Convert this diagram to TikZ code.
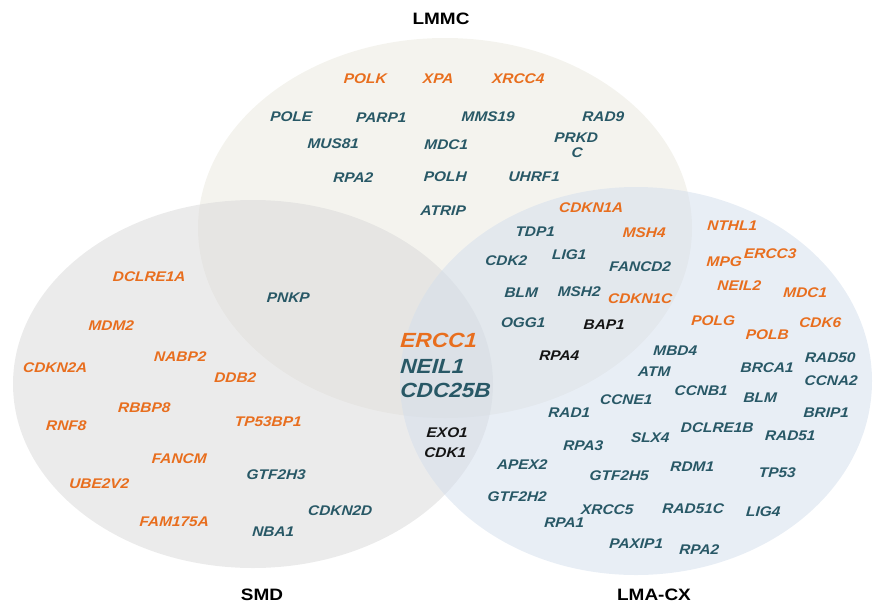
\documentclass[tikz,border=0pt]{standalone}
\usepackage{fontspec}
\newfontfamily\genefont{Liberation Sans}[FakeStretch=1.1, BoldItalicFeatures={FakeSlant=0.06}]
\newfontfamily\titlefont{Liberation Sans}[FakeStretch=1.15]
\definecolor{geneorange}{RGB}{232,110,30}
\definecolor{geneteal}{RGB}{40,88,102}
\definecolor{geneblack}{RGB}{20,20,20}
\definecolor{lmmcfill}{RGB}{234,232,222}
\definecolor{smdfill}{RGB}{216,216,216}
\definecolor{lmafill}{RGB}{210,221,236}
\tikzset{
  gene/.style={inner sep=0pt, font=\genefont\fontsize{14}{15}\selectfont\bfseries\itshape},
  up/.style={gene, text=geneorange},
  down/.style={gene, text=geneteal},
  both/.style={gene, text=geneblack},
  biggene/.style={inner sep=0pt, anchor=west, font=\genefont\fontsize{20.5}{22}\selectfont\bfseries\itshape},
  settitle/.style={inner sep=0pt, font=\titlefont\fontsize{16.5}{18}\selectfont\bfseries, text=black},
  setshape/.style={draw=none, fill opacity=0.5}
}
\begin{document}
\begin{tikzpicture}[x=1pt,y=-1pt]
\useasboundingbox (0,0) rectangle (874,605);
% the three sets
\fill[setshape, lmmcfill] (445,228) ellipse [x radius=247, y radius=190];
\fill[setshape, smdfill] (253,384) ellipse [x radius=240, y radius=184];
\fill[setshape, lmafill] (636,381) ellipse [x radius=236, y radius=194];
% set titles
\node[settitle] (tLMMC) at (441,19) {LMMC};
\node[settitle] (tSMD) at (262,595) {SMD};
\node[settitle] (tLMA) at (654,595) {LMA-CX};
% LMMC only
\node[up] (POLK) at (365,79) {POLK};
\node[up] (XPA) at (438,79) {XPA};
\node[up] (XRCC4) at (518,79) {XRCC4};
\node[down] (POLE) at (291,117) {POLE};
\node[down] (PARP1) at (381,118) {PARP1};
\node[down] (MMS19) at (488,117) {MMS19};
\node[down] (RAD9) at (603,117) {RAD9};
\node[down] (MUS81) at (333,144) {MUS81};
\node[down] (MDC1a) at (446,145) {MDC1};
\node[down] (PRKD) at (576,138) {PRKD};
\node[down] (PRKDc) at (577,153) {C};
\node[down] (RPA2a) at (353,178) {RPA2};
\node[down] (POLH) at (445,177) {POLH};
\node[down] (UHRF1) at (534,177) {UHRF1};
\node[down] (ATRIP) at (443,211) {ATRIP};
% LMMC and LMA-CX
\node[up] (CDKN1A) at (591,208) {CDKN1A};
\node[down] (TDP1) at (535,232) {TDP1};
\node[up] (MSH4) at (644,233) {MSH4};
\node[down] (LIG1) at (569,255) {LIG1};
\node[down] (CDK2) at (506,261) {CDK2};
\node[down] (FANCD2) at (640,267) {FANCD2};
\node[down] (BLMa) at (521,293) {BLM};
\node[down] (MSH2) at (579,292) {MSH2};
\node[up] (CDKN1C) at (640,299) {CDKN1C};
\node[down] (OGG1) at (523,323) {OGG1};
\node[both] (BAP1) at (604,325) {BAP1};
\node[both] (RPA4) at (559,356) {RPA4};
% LMA-CX only
\node[up] (NTHL1) at (732,226) {NTHL1};
\node[up] (MPG) at (724,262) {MPG};
\node[up] (ERCC3) at (770,254) {ERCC3};
\node[up] (NEIL2) at (739,286) {NEIL2};
\node[up] (MDC1b) at (805,293) {MDC1};
\node[up] (POLG) at (713,321) {POLG};
\node[up] (POLB) at (767,335) {POLB};
\node[up] (CDK6) at (820,323) {CDK6};
\node[down] (MBD4) at (675,351) {MBD4};
\node[down] (RAD50) at (830,358) {RAD50};
\node[down] (ATM) at (654,372) {ATM};
\node[down] (BRCA1) at (767,368) {BRCA1};
\node[down] (CCNA2) at (831,381) {CCNA2};
\node[down] (CCNB1) at (701,391) {CCNB1};
\node[down] (BLMb) at (760,398) {BLM};
\node[down] (CCNE1) at (626,400) {CCNE1};
\node[down] (RAD1) at (569,413) {RAD1};
\node[down] (BRIP1) at (826,413) {BRIP1};
\node[down] (DCLRE1B) at (717,428) {DCLRE1B};
\node[down] (RAD51) at (790,436) {RAD51};
\node[down] (SLX4) at (650,438) {SLX4};
\node[down] (RPA3) at (583,446) {RPA3};
\node[down] (APEX2) at (522,465) {APEX2};
\node[down] (RDM1) at (692,467) {RDM1};
\node[down] (TP53) at (777,473) {TP53};
\node[down] (GTF2H5) at (619,476) {GTF2H5};
\node[down] (GTF2H2) at (517,497) {GTF2H2};
\node[down] (XRCC5) at (607,510) {XRCC5};
\node[down] (RAD51C) at (693,509) {RAD51C};
\node[down] (LIG4) at (763,512) {LIG4};
\node[down] (RPA1) at (564,523) {RPA1};
\node[down] (PAXIP1) at (636,544) {PAXIP1};
\node[down] (RPA2b) at (699,550) {RPA2};
% SMD only
\node[up] (DCLRE1A) at (149,277) {DCLRE1A};
\node[up] (MDM2) at (111,326) {MDM2};
\node[up] (NABP2) at (180,357) {NABP2};
\node[up] (CDKN2A) at (55,368) {CDKN2A};
\node[up] (DDB2) at (235,378) {DDB2};
\node[up] (RBBP8) at (144,408) {RBBP8};
\node[up] (RNF8) at (66,426) {RNF8};
\node[up] (TP53BP1) at (268,422) {TP53BP1};
\node[up] (FANCM) at (179,459) {FANCM};
\node[down] (GTF2H3) at (276,475) {GTF2H3};
\node[up] (UBE2V2) at (99,484) {UBE2V2};
\node[down] (CDKN2D) at (340,511) {CDKN2D};
\node[up] (FAM175A) at (174,522) {FAM175A};
\node[down] (NBA1) at (273,532) {NBA1};
% SMD and LMMC
\node[down] (PNKP) at (288,298) {PNKP};
% all three sets
\node[biggene, text=geneorange] (ERCC1) at (400,340) {ERCC1};
\node[biggene, text=geneteal] (NEIL1) at (400,366) {NEIL1};
\node[biggene, text=geneteal] (CDC25B) at (400,390) {CDC25B};
% SMD and LMA-CX
\node[both] (EXO1) at (447,433) {EXO1};
\node[both] (CDK1) at (445,453) {CDK1};
\end{tikzpicture}
\end{document}
